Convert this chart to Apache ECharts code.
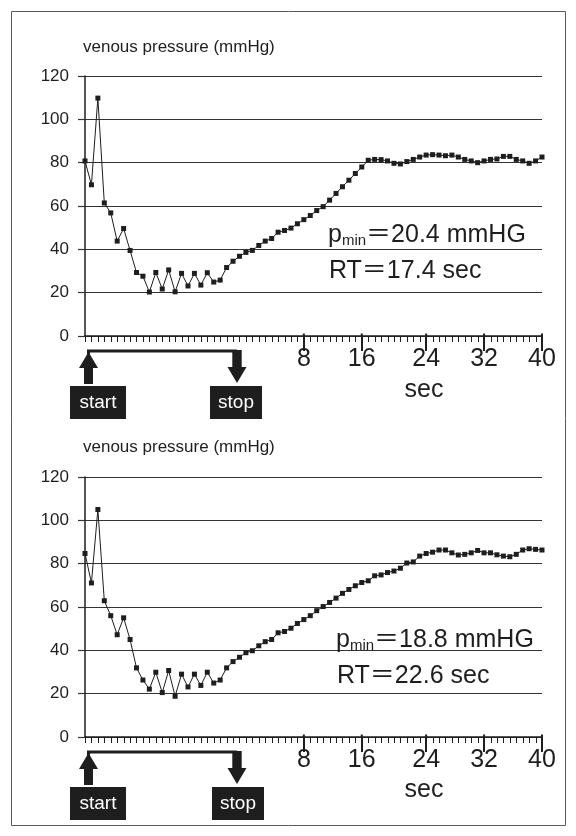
<!DOCTYPE html>
<html>
<head>
<meta charset="utf-8">
<script src="https://cdn.jsdelivr.net/npm/echarts@6/dist/echarts.min.js"></script>
<style>
  html, body { margin: 0; padding: 0; background: #fff; }
  #chart { width: 576px; height: 836px; }
</style>
</head>
<body>
<div id="chart"></div>
<script>
// ---- data (sample index on x; one value per sample) ----
const xMax = 71;
const majorTicks = [34, 43, 53, 62, 71];
const majorLabels = ['8', '16', '24', '32', '40'];
const yMin = 0, yMax = 120, yStep = 20;

const pressure1 = [80.8, 69.8, 109.8, 61.4, 56.8, 43.8, 49.6, 39.5, 29.3, 27.6,
  20.3, 29.3, 21.7, 30.5, 20.4, 28.9, 23.1, 28.9, 23.5, 29.2,
  24.9, 25.8, 31.6, 34.5, 36.8, 38.6, 39.5, 41.8, 43.8, 45.0,
  47.9, 48.7, 49.8, 51.8, 53.7, 55.6, 57.9, 59.7, 62.7, 65.8,
  68.9, 71.9, 75.0, 78.0, 81.1, 81.5, 81.4, 80.8, 79.7, 79.4,
  80.5, 81.5, 82.6, 83.5, 83.7, 83.5, 83.2, 83.5, 82.6, 81.5,
  80.8, 80.0, 80.8, 81.5, 81.7, 82.9, 82.9, 81.5, 80.8, 79.7,
  80.8, 82.6];

const pressure2 = [84.7, 71.1, 105.0, 62.9, 56.0, 47.2, 55.0, 45.0, 31.9, 26.3,
  22.1, 29.9, 20.5, 30.7, 18.8, 29.0, 23.1, 29.0, 23.8, 29.9,
  24.9, 26.3, 31.9, 34.8, 36.8, 38.9, 39.8, 42.1, 44.0, 45.0,
  48.1, 48.7, 50.2, 52.4, 54.2, 56.0, 58.3, 60.2, 62.1, 64.1,
  66.3, 68.1, 69.8, 71.3, 72.1, 74.4, 74.8, 75.9, 76.6, 77.9,
  80.3, 80.8, 83.5, 84.7, 85.3, 86.3, 86.3, 85.0, 84.0, 84.3,
  85.0, 86.1, 85.0, 85.0, 84.1, 83.5, 83.2, 84.3, 86.3, 86.9,
  86.6, 86.3];

const titleText = 'venous pressure (mmHg)';
const unitText = 'sec';
const pminValues = ['20.4', '18.8'];
const rtValues = ['17.4', '22.6'];

// ---- rendering ----
const FONT = '"Liberation Sans", Arial, Helvetica, "Noto Sans CJK JP", sans-serif';
const INK = '#1e1e1e';
const chart = echarts.init(document.getElementById('chart'));

const grids = [
  { left: 85, top: 76, width: 457, height: 260 },
  { left: 85, top: 477, width: 457, height: 260 }
];

function labelFor(v) {
  const i = majorTicks.indexOf(v);
  return i >= 0 ? majorLabels[i] : '';
}

const xAxes = [], yAxes = [], series = [];
[pressure1, pressure2].forEach((vals, g) => {
  // data axis (sample index)
  xAxes.push({
    gridIndex: g, type: 'value', min: 0, max: xMax, interval: 1, position: 'bottom', offset: 0,
    axisLine: { show: true, lineStyle: { color: INK, width: 1.5 } },
    axisTick: { show: false },
    axisLabel: { show: false },
    splitLine: { show: false }
  });
  // major ticks and second labels
  xAxes.push({
    gridIndex: g, type: 'value', min: 0, max: xMax, position: 'bottom', offset: 0,
    axisLine: { show: false },
    axisTick: { show: true, length: 15, customValues: majorTicks, lineStyle: { color: INK, width: 2 } },
    axisLabel: { show: true, customValues: majorTicks, formatter: labelFor,
      fontSize: 25, fontFamily: FONT, color: INK, margin: 11 },
    splitLine: { show: false }
  });
  yAxes.push({
    gridIndex: g, type: 'value', min: yMin, max: yMax, interval: yStep,
    axisLine: { show: true, lineStyle: { color: INK, width: 1.5 } },
    axisTick: { show: true, length: 7, lineStyle: { color: '#333', width: 1.2 } },
    axisLabel: { fontSize: 17, fontFamily: FONT, color: INK, margin: 16 },
    splitLine: { show: true, lineStyle: { color: '#333', width: 1.2 } }
  });
  series.push({
    type: 'line', xAxisIndex: g * 2, yAxisIndex: g,
    data: vals.map((v, i) => [i, v]),
    symbol: 'rect', symbolSize: 5,
    lineStyle: { color: INK, width: 1 },
    itemStyle: { color: INK },
    z: 5
  });
});

function annotations(dy) {
  const els = [];
  const txt = (text, x, y, fs, opts) => ({
    type: 'text', x, y, z: 20,
    style: Object.assign({ text, fontSize: fs, fontFamily: FONT, fill: INK,
      align: 'left', verticalAlign: 'middle' }, opts || {})
  });
  els.push(txt(titleText, 83, 47 + dy, 17));
  els.push(txt(unitText, 424, 390 + dy, 25, { align: 'center' }));
  const k = dy === 0 ? 0 : 401;
  els.push({ type: 'polyline', z: 20, shape: { points: [[88.5, 356 + k], [88.5, 351 + k], [237, 351 + k]] },
    style: { stroke: INK, lineWidth: 3, fill: null } });
  els.push({ type: 'polygon', z: 20, shape: { points: [[88.5, 352 + k], [98, 368 + k], [93, 368 + k], [93, 384 + k], [84, 384 + k], [84, 368 + k], [79, 368 + k]] },
    style: { fill: INK } });
  els.push({ type: 'polygon', z: 20, shape: { points: [[232.3, 350 + k], [241.7, 350 + k], [241.7, 367 + k], [246.5, 367 + k], [237, 383 + k], [227.5, 367 + k], [232.3, 367 + k]] },
    style: { fill: INK } });
  const bx = dy === 0 ? 0 : 2;
  els.push({ type: 'rect', z: 20, shape: { x: 70, y: 386 + k, width: 56, height: 33 }, style: { fill: INK } });
  els.push({ type: 'rect', z: 20, shape: { x: 210 + bx, y: 386 + k, width: 52, height: 33 }, style: { fill: INK } });
  els.push(txt('start', 98, 402.5 + k, 19, { align: 'center', fill: '#fff' }));
  els.push(txt('stop', 236 + bx, 402.5 + k, 19, { align: 'center', fill: '#fff' }));
  return els;
}

function resultTexts(g, dy, tdx) {
  return [
    {
      type: 'text', x: 328 + tdx, y: 234 + dy, z: 20,
      style: {
        text: '{b|p}{s|min}{b|＝' + pminValues[g] + ' mmHG}',
        verticalAlign: 'middle', align: 'left',
        rich: {
          b: { fontSize: 25, fontFamily: FONT, fill: INK, lineHeight: 28, verticalAlign: 'bottom' },
          s: { fontSize: 15, fontFamily: FONT, fill: INK, lineHeight: 24, verticalAlign: 'bottom' }
        }
      }
    },
    {
      type: 'text', x: 329 + tdx, y: 271 + dy, z: 20,
      style: { text: 'RT＝' + rtValues[g] + ' sec', fontSize: 25, fontFamily: FONT, fill: INK,
        align: 'left', verticalAlign: 'middle' }
    }
  ];
}

const graphic = [
  { type: 'rect', z: 1, shape: { x: 11.5, y: 11.5, width: 554, height: 814 },
    style: { fill: 'none', stroke: '#5a5a5a', lineWidth: 1 } }
].concat(annotations(0), annotations(400), resultTexts(0, 0, 0), resultTexts(1, 405, 8));

chart.setOption({
  animation: false,
  backgroundColor: '#fff',
  grid: grids,
  xAxis: xAxes,
  yAxis: yAxes,
  series: series,
  graphic: graphic
});

// one small tick per sample, positioned through the axis scale
const sampleTicks = [];
[0, 1].forEach(g => {
  for (let i = 0; i <= xMax; i++) {
    const p = chart.convertToPixel({ xAxisIndex: g * 2, yAxisIndex: g }, [i, 0]);
    const x = Math.round(p[0]) + 0.5;
    sampleTicks.push({ type: 'line', z: 10, silent: true,
      shape: { x1: x, y1: p[1], x2: x, y2: p[1] + 6 },
      style: { stroke: INK, lineWidth: 1 } });
  }
  majorTicks.forEach(t => {
    const p = chart.convertToPixel({ xAxisIndex: g * 2, yAxisIndex: g }, [t, 0]);
    sampleTicks.push({ type: 'line', z: 10, silent: true,
      shape: { x1: p[0], y1: p[1] - 2.5, x2: p[0], y2: p[1] },
      style: { stroke: INK, lineWidth: 2 } });
  });
});
chart.setOption({ graphic: graphic.concat(sampleTicks) });
</script>
</body>
</html>
